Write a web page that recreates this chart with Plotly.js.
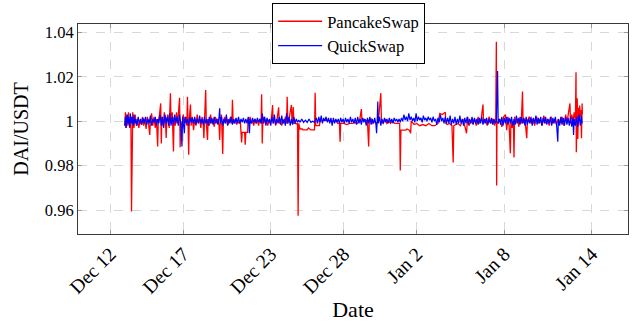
<!DOCTYPE html>
<html>
<head>
<meta charset="utf-8">
<script src="https://cdn.plot.ly/plotly-3.0.1.min.js"></script>
<style>html,body{margin:0;padding:0;background:#fff;}#chart{width:641px;height:322px;}</style>
</head>
<body>
<div id="chart"></div>
<script>
// Time origin for hour offsets
const startDate = '2021-12-13T00:00:00Z';

// PancakeSwap: hours since start, DAI/USDT price
const pancakeHours = [0,1,2,3,5,6,8,10,11,12,13,15,17,19,21,23,25,27,29,31,33,35,37,39,41,42,44,46,48,50,52,54,55,57,59,60,61,63,65,67,68,69,71,73,75,76,78,80,81,83,85,87,90,91,92,94,96,98,100,102,103,104,105,106,108,109,111,113,115,117,119,121,123,125,127,129,130,131,133,134,136,137,139,141,143,145,147,149,151,153,155,156,157,159,161,162,164,166,168,170,172,174,176,177,178,180,182,184,186,188,190,191,192,193,197,198,199,202,202.5,204,206,208,210,212,214,216,218,220,222,224,225,226,227,229,231,233,235,237,239,241,243,244,246,248,250,253,254,256,258,260,262,264,266,267,268,270,274,275,276,277,278,280,282,284,285,286,288,292,293,300,302,306,312,313,314,320,321,330,340,348,350,353,354,355,360,365,370,375,378,382,386,389,390,393,396,399,401,402,405,408,411,414,417,421,422,425,428,431,434,437,440,444,448,452,453,454,462,464,468,470,471,476,480,485,490,495,500,505,510,515,518,522,527,528,530,534,538,540,541,545,548,552,556,558,562,563,564,566,569,572,575,578,581,583,586,589,590,593,596,599,602,605,608,610,611,611.5,612,614,617,620,623,626,628,630,632,634,635,637,639,640,641,643,646,648,650,652,654,655,657,659,661,662,665,668,671,674,677,680,683,686,689,692,695,698,701,704,707,710,713,716,719,722,725,727,729,732,733,735,737,739,741,742,742.5,743,744,745,746,747,748,749,750,751,752,752.5];
const pancakePrice = [0.998,1.004,0.997,1.003,0.998,1.004,0.997,1.001,0.9594,0.999,1.004,0.997,1.003,0.998,1.001,0.997,1.000,0.9985,1.002,0.998,1.001,0.9965,1.002,0.999,0.9938,1.000,1.0035,0.998,1.002,0.997,1.001,0.9886,1.000,1.003,1.008,0.990,1.002,0.998,1.004,0.999,0.9925,1.001,1.003,0.997,1.0126,0.999,1.004,0.9864,1.002,0.998,1.004,0.999,1.0105,0.9883,1.000,0.997,1.003,0.999,1.002,0.998,1.011,0.999,0.9849,1.001,1.0075,0.998,1.002,0.996,1.001,0.998,1.003,0.999,1.001,0.997,1.002,0.999,0.9924,1.000,1.014,0.999,0.9916,1.001,0.998,1.003,0.999,1.001,0.9975,1.002,0.999,1.001,0.998,0.9916,1.000,1.003,0.9853,0.999,1.002,0.999,1.001,0.9985,1.000,1.002,0.999,1.0096,1.000,0.999,1.001,0.9985,1.000,0.999,1.000,0.995,0.9905,0.995,0.995,0.9894,0.995,0.995,1.000,0.999,1.002,0.999,1.000,0.998,1.001,0.999,1.0005,0.998,1.001,0.999,1.0121,0.990,1.000,1.002,0.999,1.001,0.998,1.000,0.999,1.001,1.0073,0.999,1.001,0.998,1.000,1.0062,0.999,1.001,0.998,1.000,0.999,1.002,0.999,1.011,0.999,1.001,1.0073,0.999,1.001,1.0064,0.999,0.999,0.9988,0.999,0.9575,0.999,0.9965,0.9965,0.9961,0.9961,0.997,0.9961,0.9961,1.0128,0.998,0.998,1.000,1.0005,1.000,1.000,0.999,0.999,0.9908,0.999,0.999,0.9985,0.999,0.999,0.9995,0.999,1.000,1.0055,1.000,1.001,1.0005,1.000,0.9886,1.000,1.001,0.999,1.000,0.999,1.000,1.0126,1.000,0.999,1.001,0.999,1.000,0.999,1.000,0.999,0.999,0.999,0.9779,0.996,0.996,0.9965,0.996,0.9946,1.000,0.9985,0.999,0.998,0.9985,0.998,0.999,0.998,0.998,0.999,1.0035,1.003,1.004,0.999,0.9985,0.999,0.998,0.9814,0.998,0.9985,0.999,0.998,1.001,0.999,0.9946,0.999,1.002,0.998,1.000,0.999,1.001,0.998,1.002,0.999,1.001,1.0075,0.999,1.001,0.998,1.002,0.999,1.001,0.998,1.001,1.0357,0.9711,1.000,0.999,1.001,0.9975,1.002,1.003,0.996,1.002,0.998,0.9856,1.001,0.997,1.000,0.9837,1.002,0.999,1.001,0.9975,1.002,0.999,1.0133,0.999,1.001,0.998,0.9924,1.000,1.002,0.999,1.001,0.998,1.002,0.999,1.001,0.998,1.0025,0.999,1.001,0.998,1.002,0.999,1.001,0.9985,1.001,0.999,1.002,0.998,1.003,0.999,1.003,1.008,0.999,1.003,1.000,1.004,1.000,1.022,0.986,1.006,1.0103,0.992,1.006,1.000,1.007,1.002,1.005,0.9924,1.008,1.003];

// QuickSwap: hours since start, DAI/USDT price
const quickHours = [0,1,2,4,5,6,8,9,11,12,14,15,17,18,20,22,24,26,28,30,32,34,36,38,40,42,44,46,48,50,52,54,56,58,60,62,64,66,68,70,72,74,76,78,80,82,84,86,88,90,92,94,95,97,98,99,101,103,105,107,109,111,113,115,117,119,121,123,125,127,129,131,133,135,137,139,141,143,145,147,149,151,153,155,156,157,159,161,163,165,167,169,171,173,175,177,179,181,183,185,187,189,191,193,195,197,199,201,203,205,206,208,210,212,214,216,218,220,222,224,226,228,230,232,234,236,238,240,242,244,246,248,250,252,254,256,258,260,262,264,266,268,270,272,274,276,278,280,282,284,286,288,291,294,297,300,303,306,309,312,315,317,319,321,323,325,327,329,331,333,335,337,339,341,343,345,347,349,351,353,355,357,359,361,363,365,367,369,371,373,375,377,379,381,383,385,387,389,391,393,395,397,399,401,403,405,407,409,411,413,414,415,416,417,419,421,423,425,427,429,431,433,435,437,439,441,443,445,447,449,451,453,455,457,459,461,463,465,467,469,471,473,475,477,479,481,483,485,487,489,491,493,495,497,499,501,503,505,507,509,511,513,515,517,519,521,523,525,527,529,531,533,535,537,539,541,543,545,547,549,551,553,555,557,559,561,563,565,567,569,571,573,575,577,579,581,583,585,587,589,591,593,595,597,599,601,603,605,607,609,611,613,614,616,618,620,622,624,626,628,630,632,634,636,638,640,642,644,646,648,650,652,654,656,658,660,662,664,666,668,670,672,674,676,678,680,682,684,686,688,690,692,694,696,698,700,702,704,706,708,710,712,713,715,717,719,721,723,725,727,729,731,733,735,737,738,739,741,743,745,747,749,751,752];
const quickPrice = [0.998,1.002,0.997,1.003,0.999,1.002,0.9975,1.0035,0.999,1.002,0.998,1.003,0.999,1.001,0.998,1.002,0.999,1.001,0.9985,1.0015,0.999,1.002,0.9985,1.001,0.999,1.0025,0.998,1.001,0.9995,1.002,0.998,1.001,0.999,1.003,0.998,1.002,0.997,1.003,0.999,1.002,0.998,1.0035,0.998,1.002,0.9985,1.003,0.999,1.002,0.998,1.003,0.999,0.9886,1.002,0.998,0.9946,1.002,0.999,1.001,0.998,1.002,0.9995,1.0015,0.999,1.002,0.9985,1.001,0.999,1.0025,0.999,1.001,0.9985,1.002,0.999,1.001,0.998,1.002,0.999,1.0015,0.9985,1.002,0.999,1.001,0.9985,1.002,1.0058,0.999,1.002,0.998,1.001,0.999,1.003,0.998,1.001,0.999,1.002,0.9985,1.001,0.999,1.0015,0.999,1.002,0.999,1.001,0.9995,1.0015,0.999,1.001,0.999,1.002,0.9946,1.001,0.999,1.0015,0.9995,1.001,0.999,1.0015,0.9995,1.001,0.999,1.0035,0.999,1.002,0.998,1.0015,0.9995,1.001,0.998,1.002,0.999,1.003,0.9985,1.001,0.999,1.002,0.9985,1.0025,0.999,1.001,0.998,1.0035,0.999,1.002,0.998,1.001,0.9985,1.002,0.999,1.001,0.9995,1.0005,0.9995,1.001,0.9995,1.0005,0.9995,1.001,0.9995,1.000,0.9995,1.0015,0.999,1.002,0.9995,1.0025,0.999,1.0015,1.000,1.002,0.9995,1.0015,0.999,1.0015,0.998,1.0015,0.999,1.001,0.9995,1.001,0.999,1.0015,0.9995,1.001,0.999,1.0015,0.9995,1.001,0.999,1.002,0.9995,1.001,0.999,1.0015,0.9985,1.002,0.999,1.001,0.9985,1.0015,0.9995,1.001,0.998,1.0015,0.999,1.002,0.9985,1.001,0.999,1.0015,0.9985,0.9946,1.000,1.0088,0.999,1.002,0.998,1.001,0.999,1.0015,0.9995,1.001,0.999,1.0015,0.9995,1.001,0.999,1.0015,1.000,1.001,0.9995,1.001,0.9995,1.0015,1.000,1.003,1.0005,1.002,1.000,1.0035,1.0005,1.002,1.000,1.0015,0.9995,1.0035,1.000,1.002,1.0005,1.0015,0.9995,1.0025,1.0005,1.0015,1.000,1.002,1.0005,1.0015,0.9995,1.002,1.000,1.001,0.9985,1.0015,0.9995,1.003,1.000,1.0015,0.999,1.002,0.999,1.0015,0.999,1.0025,0.9985,1.001,0.999,1.002,0.9985,1.001,0.999,1.0025,0.999,1.001,0.998,1.0015,0.999,1.002,0.9985,1.001,0.999,1.002,0.9985,1.0015,0.999,1.001,0.9985,1.0015,0.999,1.002,0.9985,1.001,0.999,1.0015,0.9985,1.001,0.999,1.0015,0.9985,1.001,0.999,1.000,1.0226,0.999,1.001,0.9985,1.002,0.998,1.0015,0.999,1.002,0.9985,1.0015,0.999,1.002,0.998,1.001,0.9985,1.0025,0.999,1.0015,0.9985,1.002,0.999,1.0015,0.998,1.002,0.9985,1.001,0.999,1.002,0.998,1.0015,0.999,1.0025,0.9985,1.0015,0.999,1.002,0.998,1.0015,0.999,1.002,0.9985,1.001,0.999,1.002,0.998,1.0015,0.999,1.002,0.9985,0.9908,1.001,0.998,1.002,0.9985,1.0015,0.998,1.002,0.9985,1.0015,0.998,1.002,0.9975,1.0015,0.9938,1.001,0.998,1.002,0.9975,1.003,0.998,1.0025,0.999];

// Axis ticks
const xTickDates = ['2021-12-12','2021-12-17','2021-12-23','2021-12-28','2022-01-02','2022-01-08','2022-01-14'];
const xTickLabels = ['Dec 12','Dec 17','Dec 23','Dec 28','Jan 2','Jan 8','Jan 14'];
const yTickVals = [0.96,0.98,1,1.02,1.04];
const yTickLabels = ['0.96','0.98','1','1.02','1.04'];

const t0 = Date.parse(startDate);
function toDates(hours){ return hours.map(h => new Date(t0 + h*3600000).toISOString()); }

const serif = '"Liberation Serif", "Times New Roman", serif';

const traces = [
  {x: toDates(pancakeHours), y: pancakePrice, type: 'scatter', mode: 'lines', name: 'PancakeSwap',
   line: {color: '#ff0000', width: 1.3}},
  {x: toDates(quickHours), y: quickPrice, type: 'scatter', mode: 'lines', name: 'QuickSwap',
   line: {color: '#0000ff', width: 1.2}}
];

const axisCommon = {
  showline: true, linecolor: '#3a3a3a', linewidth: 1, mirror: 'ticks',
  ticks: 'inside', ticklen: 4, tickcolor: '#999', tickwidth: 1,
  showgrid: true, gridcolor: '#d8d8d8', griddash: 'dash', gridwidth: 1,
  zeroline: false, tickfont: {family: serif, size: 16.5, color: '#000'}
};

const layout = {
  width: 641, height: 322,
  margin: {l: 78, r: 13, t: 24, b: 88, autoexpand: false},
  paper_bgcolor: '#fff', plot_bgcolor: '#fff',
  showlegend: true,
  legend: {x: 0.353, y: 1.1, xanchor: 'left', yanchor: 'top', bgcolor: '#fff',
           bordercolor: '#000', borderwidth: 1, font: {family: serif, size: 16.5, color: '#000'},
           tracegroupgap: 0, itemwidth: 44},
  xaxis: Object.assign({}, axisCommon, {
    type: 'date', range: ['2021-12-09T19:00:00', '2022-01-16T11:30:00'],
    tickmode: 'array', tickvals: xTickDates, ticktext: xTickLabels, tickangle: -45,
    tickfont: {family: serif, size: 19.5, color: '#000'},
    title: {text: 'Date', font: {family: serif, size: 22, color: '#000'}, standoff: 1}
  }),
  yaxis: Object.assign({}, axisCommon, {
    range: [0.9493, 1.0437], tickmode: 'array', tickvals: yTickVals, ticktext: yTickLabels,
    title: {text: 'DAI/USDT', font: {family: serif, size: 20, color: '#000'}, standoff: 10}
  })
};

Plotly.newPlot('chart', traces, layout, {displayModeBar: false, staticPlot: true});
</script>
</body>
</html>
